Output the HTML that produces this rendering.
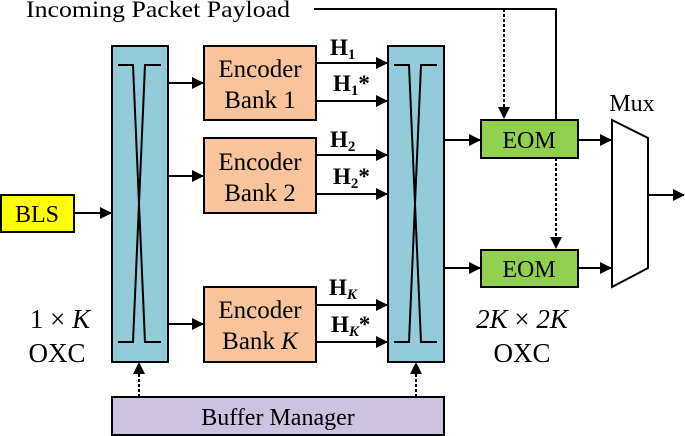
<!DOCTYPE html>
<html><head><style>
body{margin:0;background:#fff;}
svg{display:block;}
svg text{font-family:"Liberation Serif","DejaVu Serif",serif;fill:#000;}
</style></head><body>
<svg width="685" height="436" viewBox="0 0 685 436" xmlns="http://www.w3.org/2000/svg" font-family="Liberation Serif, serif">
<defs>
<marker id="b" markerWidth="12" markerHeight="12" refX="11" refY="6" orient="auto" markerUnits="userSpaceOnUse"><path d="M0,0 L12,6 L0,12 Z" fill="#000"/></marker>
</defs>
<text x="26" y="17" font-size="23" textLength="264" lengthAdjust="spacingAndGlyphs">Incoming Packet Payload</text>
<polyline points="314,9 556,9 556,120" fill="none" stroke="#000" stroke-width="2"/>
<line x1="504" y1="9" x2="504" y2="118" stroke="#000" stroke-width="2" stroke-dasharray="3,2" marker-end="url(#b)"/>
<line x1="556" y1="158" x2="556" y2="248" stroke="#000" stroke-width="2" stroke-dasharray="3,2" marker-end="url(#b)"/>
<!-- BLS -->
<rect x="1" y="195" width="73" height="37" fill="#ffff00" stroke="#000" stroke-width="2"/>
<text x="37" y="222" font-size="24" text-anchor="middle">BLS</text>
<line x1="74" y1="213" x2="111" y2="213" stroke="#000" stroke-width="2" marker-end="url(#b)"/>
<!-- Left OXC -->
<rect x="112" y="46" width="56" height="316" fill="#94cbd9" stroke="#000" stroke-width="2"/>
<path d="M118,65 H133 L145,342 H161 M161,65 H145 L133,342 H118" fill="none" stroke="#000" stroke-width="2"/>
<text x="60" y="328" font-size="27" text-anchor="middle">1 × <tspan font-style="italic">K</tspan></text>
<text x="57" y="362" font-size="27" text-anchor="middle">OXC</text>
<!-- Encoders -->
<g stroke="#000" stroke-width="2" fill="#f9c49b">
<rect x="204" y="46" width="112" height="74"/>
<rect x="204" y="138" width="112" height="75"/>
<rect x="204" y="287" width="112" height="75"/>
</g>
<g font-size="25" text-anchor="middle">
<text x="260" y="77">Encoder</text><text x="260" y="108">Bank 1</text>
<text x="260" y="170">Encoder</text><text x="260" y="201">Bank 2</text>
<text x="260" y="318">Encoder</text><text x="260" y="349">Bank <tspan font-style="italic">K</tspan></text>
</g>
<g stroke="#000" stroke-width="2">
<line x1="168" y1="83" x2="203" y2="83" marker-end="url(#b)"/>
<line x1="168" y1="176" x2="203" y2="176" marker-end="url(#b)"/>
<line x1="168" y1="324" x2="203" y2="324" marker-end="url(#b)"/>
<line x1="316" y1="63" x2="387" y2="63" marker-end="url(#b)"/>
<line x1="316" y1="101" x2="387" y2="101" marker-end="url(#b)"/>
<line x1="316" y1="155" x2="387" y2="155" marker-end="url(#b)"/>
<line x1="316" y1="194" x2="387" y2="194" marker-end="url(#b)"/>
<line x1="316" y1="305" x2="387" y2="305" marker-end="url(#b)"/>
<line x1="316" y1="342" x2="387" y2="342" marker-end="url(#b)"/>
</g>
<g font-size="23" font-weight="bold">
<text x="330" y="55">H<tspan font-size="15" dy="4">1</tspan></text>
<text x="333" y="91">H<tspan font-size="15" dy="4">1</tspan><tspan dy="-4">*</tspan></text>
<text x="330" y="147">H<tspan font-size="15" dy="4">2</tspan></text>
<text x="333" y="184">H<tspan font-size="15" dy="4">2</tspan><tspan dy="-4">*</tspan></text>
<text x="329" y="295">H<tspan font-size="15" dy="4" font-style="italic">K</tspan></text>
<text x="331" y="332">H<tspan font-size="15" dy="4" font-style="italic">K</tspan><tspan dy="-4">*</tspan></text>
</g>
<!-- Right OXC -->
<rect x="388" y="46" width="56" height="316" fill="#94cbd9" stroke="#000" stroke-width="2"/>
<path d="M394,65 H409 L421,342 H437 M437,65 H421 L409,342 H394" fill="none" stroke="#000" stroke-width="2"/>
<text x="522" y="328" font-size="27" text-anchor="middle" font-style="italic">2K <tspan font-style="normal">×</tspan> 2K</text>
<text x="522" y="362" font-size="27" text-anchor="middle">OXC</text>
<!-- EOM -->
<line x1="444" y1="140" x2="480" y2="140" stroke="#000" stroke-width="2" marker-end="url(#b)"/>
<line x1="444" y1="268" x2="480" y2="268" stroke="#000" stroke-width="2" marker-end="url(#b)"/>
<rect x="481" y="120" width="97" height="38" fill="#8fd14f" stroke="#000" stroke-width="2"/>
<rect x="481" y="250" width="97" height="37" fill="#8fd14f" stroke="#000" stroke-width="2"/>
<text x="529" y="148" font-size="24" text-anchor="middle">EOM</text>
<text x="529" y="277" font-size="24" text-anchor="middle">EOM</text>
<line x1="578" y1="140" x2="611" y2="140" stroke="#000" stroke-width="2" marker-end="url(#b)"/>
<line x1="578" y1="268" x2="611" y2="268" stroke="#000" stroke-width="2" marker-end="url(#b)"/>
<!-- Mux -->
<polygon points="612,120 648,138 648,268 612,287" fill="#fff" stroke="#000" stroke-width="2"/>
<text x="632" y="111" font-size="24" text-anchor="middle">Mux</text>
<line x1="648" y1="195" x2="684" y2="195" stroke="#000" stroke-width="2" marker-end="url(#b)"/>
<!-- Buffer manager -->
<rect x="112" y="397" width="332" height="38" fill="#cdc3de" stroke="#000" stroke-width="2"/>
<text x="278" y="425" font-size="24" text-anchor="middle">Buffer Manager</text>
<line x1="139" y1="397" x2="139" y2="363" stroke="#000" stroke-width="2" stroke-dasharray="3,2" marker-end="url(#b)"/>
<line x1="416" y1="397" x2="416" y2="363" stroke="#000" stroke-width="2" stroke-dasharray="3,2" marker-end="url(#b)"/>
</svg>
</body></html>
